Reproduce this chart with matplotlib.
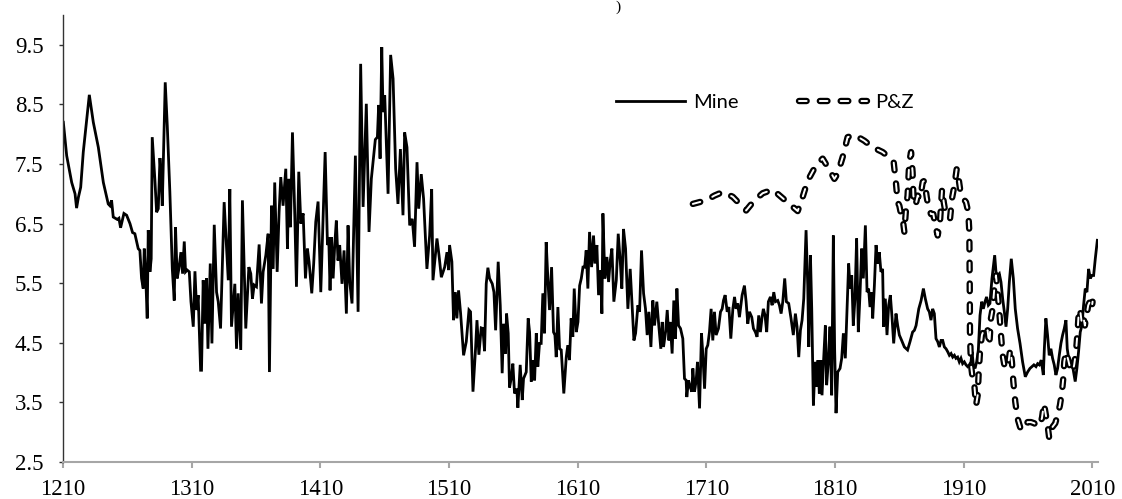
import matplotlib
matplotlib.use("Agg")
import matplotlib.pyplot as plt
import matplotlib.patheffects as pe

# "Mine" series: year, value
mine_years = [
    1210.3, 1212.9, 1216.8, 1219.4, 1220.6, 1222.0, 1223.8, 1225.8, 1230.5, 1233.6,
    1237.5, 1241.4, 1245.2, 1246.5, 1247.8, 1249.1, 1252.2, 1253.5, 1254.8, 1257.4,
    1259.5, 1262.1, 1264.1, 1265.9, 1268.5, 1269.8, 1271.1, 1272.4, 1273.2, 1274.2,
    1275.5, 1276.3, 1277.6, 1278.6, 1279.4, 1281.5, 1282.8, 1284.1, 1285.4, 1286.1,
    1287.2, 1289.5, 1291.1, 1293.1, 1295.0, 1296.5, 1297.5, 1298.8, 1300.1, 1301.7,
    1303.0, 1304.3, 1305.3, 1306.6, 1308.2, 1309.5, 1311.3, 1312.6, 1313.9, 1315.1,
    1317.0, 1317.7, 1319.0, 1320.3, 1321.6, 1322.7, 1324.5, 1325.8, 1327.6, 1329.4,
    1330.7, 1332.5, 1335.3, 1337.2, 1338.5, 1339.7, 1341.0, 1342.3, 1343.6, 1344.9,
    1346.2, 1348.2, 1349.5, 1352.1, 1354.5, 1356.0, 1357.3, 1358.6, 1360.4, 1362.5,
    1364.3, 1365.6, 1367.7, 1369.5, 1370.5, 1372.1, 1373.4, 1374.6, 1376.5, 1378.0,
    1379.3, 1381.1, 1383.2, 1384.5, 1385.5, 1386.8, 1388.4, 1390.2, 1391.5, 1393.3,
    1394.9, 1396.7, 1398.5, 1400.0, 1401.3, 1403.4, 1404.9, 1406.5, 1408.3, 1410.4,
    1413.8, 1415.6, 1416.6, 1417.6, 1418.7, 1420.0, 1421.3, 1422.5, 1423.8, 1425.1,
    1426.9, 1428.5, 1430.3, 1431.6, 1432.9, 1434.7, 1437.3, 1439.4, 1441.4, 1443.3,
    1445.8, 1447.9, 1449.7, 1451.0, 1452.8, 1454.4, 1455.4, 1456.5, 1457.8, 1458.8,
    1460.1, 1462.7, 1464.7, 1466.6, 1468.6, 1470.4, 1472.3, 1474.3, 1475.6, 1477.4,
    1479.5, 1481.5, 1483.3, 1485.2, 1486.5, 1488.5, 1490.3, 1492.9, 1495.0, 1496.6,
    1497.6, 1500.7, 1502.3, 1504.1, 1506.7, 1508.5, 1509.8, 1510.5, 1512.3, 1513.6,
    1515.0, 1516.2, 1517.5, 1519.1, 1521.4, 1523.5, 1525.6, 1526.8, 1528.7, 1530.7,
    1531.8, 1533.3, 1535.1, 1536.4, 1537.7, 1539.0, 1540.3, 1541.6, 1543.7, 1545.0,
    1546.3, 1548.3, 1549.9, 1551.4, 1552.5, 1554.0, 1554.8, 1556.1, 1557.1, 1558.4,
    1559.7, 1561.0, 1562.8, 1563.6, 1565.4, 1567.0, 1568.0, 1570.1, 1571.6, 1572.7,
    1574.0, 1575.3, 1576.6, 1577.9, 1579.1, 1580.4, 1581.7, 1583.0, 1584.3, 1585.6,
    1586.9, 1588.2, 1589.8, 1591.3, 1592.4, 1593.4, 1594.7, 1596.0, 1597.3, 1599.3,
    1601.2, 1602.4, 1603.7, 1605.0, 1606.3, 1607.4, 1609.0, 1610.3, 1611.6, 1612.9,
    1614.2, 1615.5, 1616.7, 1618.0, 1619.3, 1620.9, 1622.4, 1623.5, 1625.0, 1626.3,
    1627.9, 1628.9, 1629.7, 1631.2, 1632.8, 1634.1, 1635.4, 1636.7, 1638.2, 1640.1,
    1641.6, 1643.2, 1644.4, 1645.7, 1647.3, 1649.1, 1650.9, 1652.2, 1653.8, 1655.1,
    1656.9, 1658.2, 1659.7, 1661.3, 1662.8, 1664.1, 1665.4, 1667.0, 1668.5, 1669.8,
    1671.6, 1673.2, 1674.7, 1675.8, 1676.8, 1678.4, 1679.7, 1681.0, 1682.0, 1683.5,
    1684.8, 1686.1, 1687.2, 1688.5, 1690.0, 1691.8, 1693.1, 1694.4, 1694.9, 1696.2,
    1697.5, 1698.8, 1699.6, 1700.9, 1702.2, 1703.2, 1704.8, 1706.3, 1707.4, 1708.7,
    1710.0, 1711.2, 1712.5, 1713.8, 1715.1, 1716.4, 1717.7, 1719.5, 1721.1, 1722.4,
    1723.4, 1724.7, 1726.3, 1727.6, 1729.1, 1730.7, 1732.0, 1733.2, 1734.5, 1735.8,
    1737.9, 1739.7, 1741.0, 1742.3, 1743.6, 1745.4, 1746.7, 1748.2, 1749.5, 1750.8,
    1752.1, 1753.4, 1754.4, 1755.7, 1757.0, 1758.3, 1759.9, 1761.2, 1762.5, 1763.8,
    1765.6, 1766.9, 1768.2, 1769.5, 1771.0, 1772.3, 1774.1, 1775.9, 1777.7, 1779.3,
    1780.6, 1781.9, 1783.2, 1784.5, 1785.8, 1787.6, 1788.9, 1789.7, 1791.0, 1792.0,
    1793.3, 1794.6, 1795.9, 1796.9, 1797.9, 1799.0, 1800.0, 1801.3, 1802.6, 1803.6,
    1804.9, 1806.2, 1807.5, 1808.8, 1809.8, 1810.9, 1812.2, 1814.0, 1815.3, 1816.6,
    1818.1, 1819.4, 1820.7, 1821.8, 1823.1, 1824.3, 1825.6, 1826.9, 1828.2, 1829.5,
    1830.8, 1832.1, 1833.7, 1835.0, 1836.2, 1837.3, 1838.6, 1839.4, 1840.7, 1842.0,
    1843.2, 1844.5, 1845.8, 1847.1, 1847.9, 1849.2, 1850.5, 1851.8, 1853.1, 1854.4,
    1855.7, 1857.5, 1858.8, 1860.1, 1861.9, 1864.0, 1866.5, 1868.4, 1870.4, 1871.8,
    1873.1, 1875.2, 1877.0, 1878.8, 1880.3, 1882.1, 1883.4, 1884.7, 1886.0, 1887.3,
    1888.6, 1889.9, 1891.2, 1892.5, 1893.8, 1895.1, 1896.4, 1897.7, 1899.0, 1900.3,
    1901.6, 1902.9, 1904.1, 1905.4, 1906.7, 1908.0, 1909.3, 1910.6, 1911.9, 1913.2,
    1914.5, 1915.8, 1916.6, 1917.6, 1918.9, 1920.2, 1921.5, 1922.8, 1924.1, 1925.4,
    1926.7, 1927.9, 1929.3, 1930.5, 1932.1, 1933.1, 1934.2, 1935.2, 1936.5, 1937.8,
    1939.1, 1940.4, 1941.7, 1943.0, 1944.3, 1945.6, 1947.1, 1948.7, 1950.2, 1952.0,
    1953.9, 1955.9, 1958.0, 1959.8, 1961.6, 1963.2, 1964.7, 1966.3, 1967.6, 1968.9,
    1970.4, 1972.0, 1972.8, 1974.0, 1975.3, 1976.6, 1977.9, 1979.2, 1980.5, 1981.8,
    1983.1, 1984.4, 1985.7, 1987.0, 1988.3, 1989.6, 1990.6, 1991.7, 1992.9, 1994.2,
    1995.5, 1996.8, 1998.1, 1999.4, 2000.7, 2002.0, 2003.3, 2004.6, 2005.9, 2007.2,
    2008.5, 2009.8, 2011.1, 2012.4, 2014.0,
]
mine_values = [
    8.20, 7.64, 7.19, 7.00, 6.76, 6.94, 7.11, 7.70, 8.66, 8.20,
    7.78, 7.19, 6.83, 6.80, 6.89, 6.61, 6.57, 6.59, 6.43, 6.67,
    6.64, 6.50, 6.35, 6.33, 6.08, 6.05, 5.58, 5.41, 6.08, 5.69,
    4.91, 6.39, 5.69, 5.91, 7.95, 7.22, 6.69, 6.75, 7.60, 7.36,
    6.80, 8.87, 8.14, 7.03, 5.74, 5.21, 6.44, 5.58, 5.74, 6.02,
    5.66, 6.20, 5.69, 5.72, 5.69, 5.19, 4.77, 5.70, 5.05, 5.30,
    4.04, 4.04, 5.55, 4.82, 5.58, 4.40, 5.83, 4.49, 6.48, 5.35,
    5.19, 4.74, 6.86, 6.08, 5.55, 7.08, 4.77, 5.13, 5.49, 4.40,
    5.33, 4.38, 6.89, 4.74, 5.77, 5.66, 5.24, 5.47, 5.44, 6.15,
    5.16, 5.69, 5.97, 6.33, 4.01, 6.80, 5.74, 7.19, 5.69, 6.69,
    7.28, 6.80, 7.42, 6.08, 7.25, 6.44, 8.03, 6.64, 5.44, 7.37,
    6.50, 6.67, 5.58, 6.08, 5.86, 5.33, 5.83, 6.53, 6.87, 5.35,
    7.70, 6.14, 6.27, 5.38, 6.27, 5.58, 6.16, 6.55, 5.88, 6.14,
    5.49, 6.05, 4.99, 6.47, 5.52, 5.16, 7.64, 5.02, 9.18, 6.78,
    8.51, 6.36, 7.25, 7.53, 7.91, 7.95, 8.49, 7.59, 9.46, 8.37,
    8.65, 7.00, 9.33, 8.93, 7.42, 6.83, 7.75, 6.64, 8.03, 7.78,
    6.47, 6.58, 6.11, 7.53, 6.75, 7.33, 6.92, 5.74, 6.30, 7.08,
    5.55, 6.25, 5.97, 5.60, 5.77, 6.02, 5.72, 6.14, 5.86, 4.88,
    5.35, 4.91, 5.38, 4.99, 4.29, 4.52, 5.05, 5.02, 3.68, 4.40,
    4.88, 4.30, 4.75, 4.74, 4.36, 5.49, 5.76, 5.58, 5.49, 5.35,
    4.71, 5.86, 5.13, 3.99, 4.82, 4.32, 4.99, 4.66, 3.75, 3.90,
    4.15, 3.65, 3.73, 3.41, 4.13, 3.54, 3.90, 4.01, 4.91, 4.68,
    3.85, 4.21, 3.87, 4.66, 4.10, 4.49, 4.49, 5.33, 4.66, 6.19,
    5.58, 5.05, 5.77, 4.68, 4.63, 4.26, 5.10, 4.40, 4.38, 3.65,
    4.26, 4.46, 4.21, 4.91, 4.60, 5.41, 4.68, 4.85, 5.46, 5.58,
    5.77, 5.77, 6.05, 5.41, 6.36, 5.77, 6.30, 5.83, 6.14, 5.30,
    5.72, 4.99, 6.67, 5.58, 5.94, 5.52, 5.88, 6.08, 5.19, 5.55,
    6.33, 5.86, 5.41, 6.41, 6.08, 5.07, 5.74, 5.19, 4.54, 4.66,
    5.13, 5.02, 6.05, 5.33, 5.07, 4.63, 5.02, 4.43, 5.21, 4.79,
    5.19, 4.77, 4.40, 4.85, 4.43, 4.68, 5.05, 4.54, 4.85, 4.32,
    5.21, 4.57, 5.41, 4.79, 4.74, 4.57, 3.90, 3.87, 3.59, 3.87,
    3.76, 3.68, 4.07, 3.68, 3.87, 4.18, 3.40, 4.66, 4.29, 3.73,
    4.40, 4.46, 4.68, 5.07, 4.54, 5.02, 4.63, 4.74, 5.02, 5.07,
    5.21, 5.30, 5.02, 5.10, 4.57, 5.07, 5.27, 5.07, 5.16, 4.93,
    5.30, 5.46, 5.19, 4.82, 5.02, 4.93, 4.74, 4.68, 4.60, 4.96,
    4.68, 4.93, 5.07, 4.96, 4.68, 5.19, 5.27, 5.13, 5.35, 5.19,
    5.21, 5.13, 4.99, 5.19, 5.58, 5.19, 5.16, 4.91, 4.63, 4.99,
    4.77, 4.26, 4.71, 4.88, 5.24, 6.39, 5.46, 4.43, 5.97, 5.07,
    3.45, 4.18, 3.76, 4.21, 3.65, 4.21, 3.62, 4.24, 4.79, 3.79,
    4.18, 4.77, 3.62, 6.30, 4.40, 3.32, 4.01, 4.07, 4.24, 4.66,
    4.24, 5.05, 5.83, 5.41, 5.63, 4.79, 5.24, 6.25, 4.68, 5.30,
    6.08, 5.58, 6.47, 5.35, 5.41, 5.10, 5.35, 4.91, 5.46, 6.14,
    5.83, 6.02, 5.69, 5.74, 4.77, 5.24, 4.63, 5.13, 5.30, 4.93,
    4.49, 4.99, 4.79, 4.63, 4.54, 4.43, 4.38, 4.52, 4.68, 4.71,
    4.79, 5.07, 5.21, 5.41, 5.24, 5.07, 5.02, 4.88, 5.07, 4.99,
    4.57, 4.52, 4.43, 4.54, 4.54, 4.43, 4.40, 4.35, 4.29, 4.32,
    4.26, 4.29, 4.24, 4.26, 4.18, 4.24, 4.15, 4.18, 4.13, 4.10,
    4.13, 4.18, 4.35, 4.13, 4.07, 4.18, 4.38, 4.96, 5.19, 5.07,
    5.19, 5.27, 5.13, 5.16, 5.58, 5.77, 5.97, 5.69, 5.63, 5.66,
    5.52, 5.24, 5.02, 4.77, 5.07, 5.52, 5.91, 5.58, 5.07, 4.74,
    4.49, 4.18, 3.93, 4.01, 4.07, 4.10, 4.13, 4.10, 4.15, 4.13,
    4.21, 3.96, 4.40, 4.91, 4.63, 4.29, 4.40, 4.24, 4.13, 3.96,
    4.07, 4.29, 4.49, 4.63, 4.74, 4.88, 4.40, 4.24, 4.10, 4.18,
    4.01, 3.85, 4.07, 4.35, 4.68, 4.79, 5.13, 5.41, 5.35, 5.74,
    5.58, 5.63, 5.63, 5.91, 6.22,
]

# "P&Z" series
pz_years = [
    1699.6, 1709.9, 1716.4, 1722.9, 1730.6, 1741.0, 1747.5, 1753.9, 1761.7, 1768.2,
    1774.6, 1781.1, 1785.0, 1788.9, 1795.4, 1800.5, 1804.4, 1809.6, 1812.2, 1816.1,
    1819.9, 1825.1, 1832.9, 1839.4, 1847.1, 1852.3, 1855.7, 1857.5, 1858.8, 1860.1,
    1861.4, 1862.7, 1864.0, 1865.3, 1866.5, 1867.8, 1869.2, 1870.4, 1871.0, 1872.6,
    1874.4, 1876.2, 1878.3, 1879.6, 1881.4, 1882.9, 1884.7, 1886.5, 1888.1, 1889.9,
    1891.7, 1893.3, 1894.6, 1895.9, 1897.7, 1899.5, 1901.0, 1902.9, 1904.7, 1906.2,
    1907.3, 1908.5, 1909.8, 1911.9, 1913.7, 1914.5, 1914.8, 1915.0, 1915.8, 1917.1,
    1918.4, 1919.7, 1921.0, 1921.8, 1922.8, 1924.3, 1926.2, 1927.4, 1928.7, 1930.0,
    1931.3, 1932.6, 1933.9, 1935.2, 1936.5, 1937.8, 1939.1, 1940.4, 1941.7, 1943.0,
    1945.0, 1946.3, 1947.6, 1948.7, 1950.2, 1952.0, 1954.6, 1957.2, 1959.8, 1962.4,
    1965.0, 1967.0, 1968.9, 1970.9, 1972.5, 1974.0, 1975.3, 1976.6, 1977.9, 1979.2,
    1981.3, 1983.1, 1984.9, 1986.5, 1987.5, 1988.3, 1989.6, 1991.4, 1992.9, 1994.8,
    1996.0, 1997.4, 1998.6, 1999.4, 2000.5, 2001.8, 2003.0, 2004.3, 2005.6, 2006.9,
    2008.2, 2009.5, 2010.3,
]
pz_values = [
    6.83, 6.89, 6.97, 7.03, 6.95, 6.72, 6.89, 7.01, 7.07, 6.95,
    6.83, 6.71, 6.95, 7.22, 7.48, 7.59, 7.45, 7.25, 7.34, 7.62,
    7.95, 7.99, 7.89, 7.78, 7.70, 7.61, 7.53, 7.17, 6.86, 6.80,
    6.66, 6.58, 6.36, 6.75, 6.97, 7.53, 7.70, 7.36, 6.97, 6.80,
    6.97, 6.92, 7.20, 7.22, 6.94, 6.75, 6.66, 6.66, 6.47, 6.30,
    6.53, 7.08, 6.86, 6.69, 6.64, 6.58, 6.92, 7.14, 7.42, 7.25,
    7.08, 7.03, 6.92, 6.86, 6.69, 6.36, 5.52, 4.63, 4.13, 3.90,
    3.79, 3.45, 3.62, 4.01, 4.35, 4.63, 4.74, 4.66, 4.71, 4.46,
    4.91, 5.07, 5.41, 5.63, 5.35, 5.02, 4.63, 4.29, 4.13, 4.07,
    4.18, 4.40, 4.18, 3.85, 3.51, 3.23, 3.04, 3.06, 3.17, 3.17,
    3.15, 3.09, 3.15, 3.23, 3.48, 3.29, 3.12, 2.90, 2.95, 3.09,
    3.15, 3.29, 3.45, 3.68, 3.90, 4.18, 4.35, 4.21, 4.07, 4.01,
    4.13, 4.35, 4.68, 4.96, 5.07, 4.85, 4.96, 4.79, 4.96, 5.13,
    5.19, 5.07, 5.19,
]

x_ticks = [1210, 1310, 1410, 1510, 1610, 1710, 1810, 1910, 2010]
y_ticks = [2.5, 3.5, 4.5, 5.5, 6.5, 7.5, 8.5, 9.5]

plt.rcParams['lines.scale_dashes'] = False

fig = plt.figure(figsize=(11.22, 4.99), dpi=100)
ax = fig.add_axes([0.0561, 0.0741, 0.9225, 0.8959])

ax.plot(mine_years, mine_values, color='black', lw=2.0, label='Mine',
        solid_joinstyle='miter')
# outlined (hollow) dashes
ax.plot(pz_years, pz_values, color='white', lw=1.4, label='P&Z',
        dashes=(5.5, 9.5), dash_capstyle='round',
        path_effects=[pe.Stroke(linewidth=4.6, foreground='black'), pe.Normal()])

ax.set_xlim(1210, 2014.5)
ax.set_ylim(2.5, 10.0)
ax.set_xticks(x_ticks)
ax.set_yticks(y_ticks)
ax.set_yticklabels(['%.1f' % v for v in y_ticks])

for s in ['top', 'right']:
    ax.spines[s].set_visible(False)
ax.spines['left'].set_color('#333333')
ax.spines['left'].set_linewidth(1.0)
ax.spines['bottom'].set_color('#a6a6a6')
ax.spines['bottom'].set_linewidth(1.5)

ax.tick_params(axis='x', direction='out', length=4, width=1.5, color='#a6a6a6',
               pad=8, labelsize=16.5)
ax.tick_params(axis='y', direction='out', length=3, width=1.0, color='#333333',
               pad=11, labelsize=16.5)
for lab in ax.get_xticklabels() + ax.get_yticklabels():
    lab.set_fontfamily('Liberation Serif')

ax.legend(loc='center', bbox_to_anchor=(0.682, 0.794),
          bbox_transform=fig.transFigure, ncol=2, frameon=False,
          prop={'family': 'Lato', 'size': 14.5}, handlelength=3.4,
          handletextpad=0.4, columnspacing=3.0, borderpad=0)

# the tail of a title at the top edge
fig.text(0.549, 0.999, ')', fontsize=11, family='Liberation Serif',
         ha='left', va='top')

fig.savefig('out.png', dpi=100)
